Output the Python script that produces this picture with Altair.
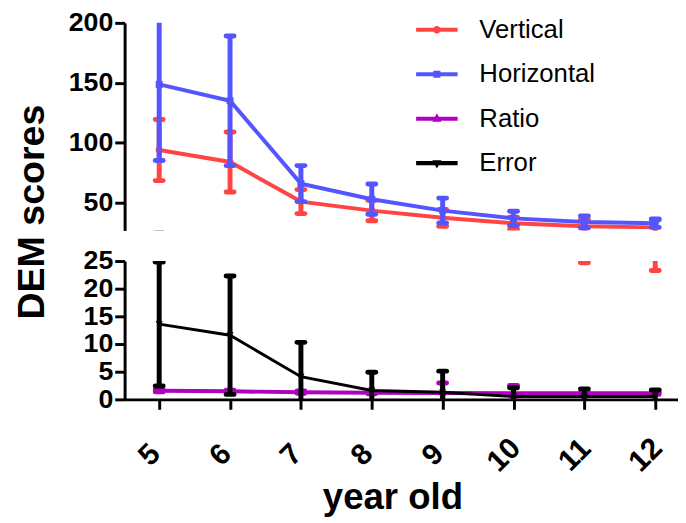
import altair as alt
import pandas as pd

years = [5, 6, 7, 8, 9, 10, 11, 12]
series_names = ["Vertical", "Horizontal", "Ratio", "Error"]
series_colors = ["#FF4444", "#5555FF", "#B000C0", "#000000"]
series_shapes = ["circle", "square", "triangle-up", "triangle-down"]

vertical_mean = [94, 84, 51, 43.5, 37.5, 33, 30.5, 29.5]
vertical_sd = [25.5, 25, 10, 8.5, 7, 5, 5.8, 6.2]
horizontal_mean = [148.7, 135, 66, 53, 43.5, 37, 34, 33]
horizontal_sd = [63.5, 54, 15, 12.6, 10.4, 6, 5, 3.5]
ratio_mean = [1.55, 1.45, 1.3, 1.2, 1.15, 1.1, 1.1, 1.1]
ratio_sd = [0.2, 0.2, 0.2, 0.2, 1.8, 1.4, 0.2, 0.2]
error_mean = [13.6, 11.6, 4.1, 1.6, 1.3, 0.5, 0.5, 0.5]
error_sd = [11.2, 10.7, 6.2, 3.3, 3.8, 1.6, 1.4, 1.2]

top_ticks = [50, 100, 150, 200]
bottom_ticks = [0, 5, 10, 15, 20, 25]

rows = []
for name, means, sds in zip(series_names,
                            [vertical_mean, horizontal_mean, ratio_mean, error_mean],
                            [vertical_sd, horizontal_sd, ratio_sd, error_sd]):
    for yr, m, s in zip(years, means, sds):
        rows.append({"year": yr, "series": name, "mean": m, "lo": m - s, "hi": m + s})
df = pd.DataFrame(rows)

# legend glyphs: line + marker, in Vega's [-1, 1] symbol box (all wound clockwise)
line_path = "M-1,-0.1H1V0.1H-1Z"
legend_paths = [
    line_path + "M0.18,0A0.18,0.18,0,1,1,-0.18,0A0.18,0.18,0,1,1,0.18,0Z",
    line_path + "M-0.17,-0.17H0.17V0.17H-0.17Z",
    line_path + "M0,-0.26L0.22,0.14L-0.22,0.14Z",
    line_path + "M0,0.26L-0.22,-0.14L0.22,-0.14Z",
]

FONT = "Liberation Sans"
W = 560
xscale = alt.Scale(domain=[4.512, 12.321], nice=False, zero=False)


def panel(ydomain, height, ticks, yaxis_extra, xaxis, with_legend):
    yscale = alt.Scale(domain=ydomain, nice=False, zero=False)
    yaxis = alt.Axis(values=ticks, labelFontSize=27, labelFont=FONT, labelFontWeight="bold",
                     labelColor="black", domainColor="black", domainWidth=3, tickColor="black",
                     tickWidth=3, tickSize=10, labelPadding=2, labelOverlap=False, grid=False,
                     **yaxis_extra)
    X = alt.X("year:Q", scale=xscale, axis=xaxis)
    layers = []
    for name, color, shape in zip(series_names, series_colors, series_shapes):
        base = alt.Chart(df).transform_filter(alt.datum.series == name)
        lw = 3 if name == "Error" else 4
        stem = base.mark_rule(color=color, strokeWidth=5, clip=True).encode(
            x=X, y=alt.Y("lo:Q", scale=yscale, axis=yaxis), y2="hi:Q")
        cap_hi = base.mark_rule(color=color, strokeWidth=5, strokeCap="round", clip=True,
                                xOffset=-4, x2Offset=4).encode(
            x=X, x2="year:Q", y=alt.Y("hi:Q", scale=yscale, axis=yaxis))
        cap_lo = base.mark_rule(color=color, strokeWidth=5, strokeCap="round", clip=True,
                                xOffset=-4, x2Offset=4).encode(
            x=X, x2="year:Q", y=alt.Y("lo:Q", scale=yscale, axis=yaxis))
        line = base.mark_line(color=color, strokeWidth=lw, clip=True).encode(
            x=X, y=alt.Y("mean:Q", scale=yscale, axis=yaxis))
        pts = base.mark_point(shape=shape, filled=True, size=50, color=color, opacity=1,
                              clip=True).encode(
            x=X, y=alt.Y("mean:Q", scale=yscale, axis=yaxis))
        layers += [stem, cap_hi, cap_lo, line, pts]
    if with_legend:
        leg = alt.Chart(pd.DataFrame({"series": series_names, "off": [-100] * 4})).mark_point(
            filled=True, opacity=1, strokeWidth=0, clip=True).encode(
            x=alt.X("off:Q", scale=xscale, axis=xaxis),
            y=alt.Y("off:Q", scale=yscale, axis=yaxis),
            color=alt.Color("series:N", scale=alt.Scale(domain=series_names, range=series_colors),
                            legend=alt.Legend(title=None, orient="none", legendX=295, legendY=-14)),
            shape=alt.Shape("series:N", scale=alt.Scale(domain=series_names, range=legend_paths),
                            legend=alt.Legend(title=None, orient="none", legendX=295, legendY=-14)),
        )
        layers.append(leg)
    return alt.layer(*layers).properties(width=W, height=height)


top = panel([27, 200], 210, top_ticks,
            dict(title="DEM scores", titleFontSize=38, titleFont=FONT, titleFontWeight="bold",
                 titleColor="black", titleAngle=270, titleAlign="center",
                 titleBaseline="alphabetic", titleX=-82, titleY=191),
            None, True)

xaxis = alt.Axis(values=years, labelAngle=315, labelAlign="center", labelBaseline="middle",
                 labelFontSize=30, labelFont=FONT, labelFontWeight="bold", labelColor="black",
                 labelPadding=46, labelOffset=-10, labelFlush=False, labelOverlap=False,
                 domainColor="black", domainWidth=3, tickColor="black", tickWidth=3, tickSize=10,
                 grid=False, title="year old", titleFontSize=37, titleFont=FONT,
                 titleFontWeight="bold", titleColor="black", titleX=271, titleY=110,
                 titleAlign="center", titleBaseline="alphabetic")

bottom = panel([0, 25], 140, bottom_ticks, dict(title=None), xaxis, False)

chart = alt.vconcat(top, bottom, spacing=31, bounds="flush").configure_view(
    stroke=None).configure_legend(
    symbolSize=1764, symbolStrokeWidth=0, labelFontSize=26, labelFont=FONT,
    labelColor="black", labelOffset=22, rowPadding=11, padding=0
).properties(padding={"left": 6, "right": 0, "top": -2, "bottom": 0})

chart.save("out.html", embed_options={"renderer": "svg", "actions": False})
